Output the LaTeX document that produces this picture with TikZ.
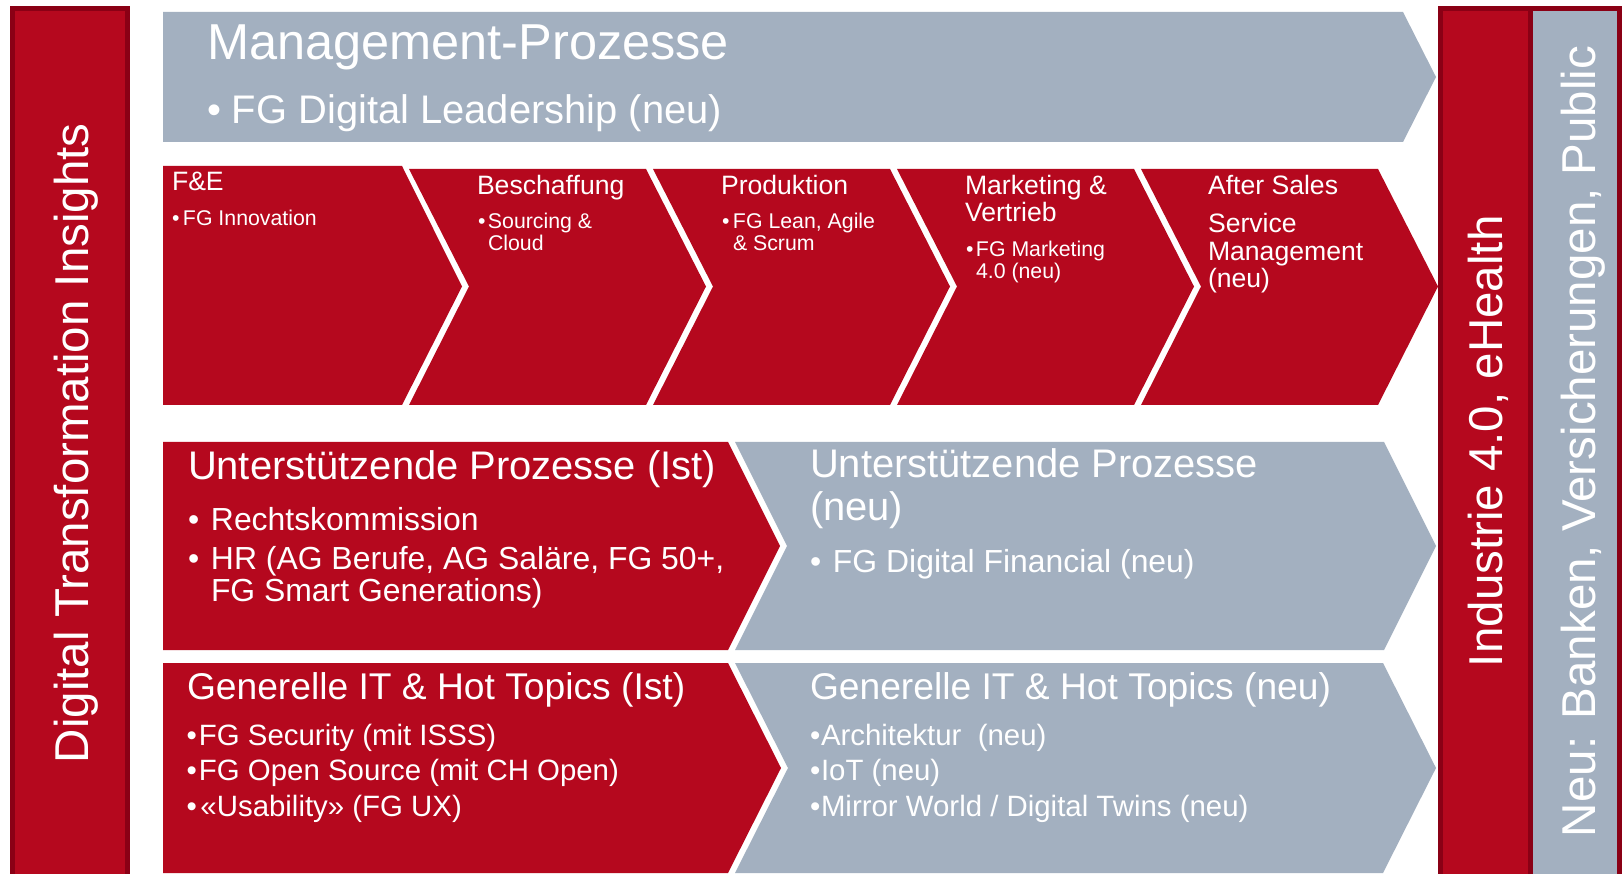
\documentclass[tikz,border=0pt]{standalone}
\usepackage{fontspec}
\setmainfont{Liberation Sans}
\definecolor{brand}{RGB}{181,8,30}
\definecolor{branddark}{RGB}{138,0,21}
\definecolor{slate}{RGB}{163,176,192}
\newcommand{\fsz}[1]{\fontsize{#1}{#1}\selectfont}
\newcommand{\bl}[1]{\makebox[#1][l]{•}}
\tikzset{
  txt/.style={anchor=base west, inner sep=0pt, outer sep=0pt, text=white},
  vtxt/.style={txt, rotate=90, font=\fsz{47.5pt}},
  hbig/.style={txt, font=\fsz{50.5pt}},
  hmid/.style={txt, font=\fsz{39.9pt}},
  hgen/.style={txt, font=\fsz{37.2pt}},
  itm/.style={txt, font=\fsz{31.9pt}},
  itmg/.style={txt, font=\fsz{29.4pt}},
  hsm/.style={txt, font=\fsz{26.6pt}},
  ism/.style={txt, font=\fsz{21.3pt}},
  redshape/.style={fill=brand},
  greyshape/.style={fill=slate},
  sidebar/.style={draw=branddark, line width=5pt},
}
\begin{document}
\begin{tikzpicture}[x=1pt,y=-1pt]
\useasboundingbox (0,0) rectangle (1623,874);
\clip (0,0) rectangle (1623,874);
\fill[white] (0,0) rectangle (1623,874);

% side bars
\path[sidebar, fill=brand] (12.5,8.5) rectangle (127.5,890);
\path[sidebar, fill=brand] (1440.5,8.5) rectangle (1530.5,890);
\path[sidebar, fill=slate] (1530.5,8.5) rectangle (1619.5,890);

% management chevron
\path[greyshape] (163,12) -- (1403,12) -- (1436,77) -- (1403,142) -- (163,142) -- cycle;

% value chain
\path[redshape] (163,166) -- (402,166) -- (462,286.5) -- (402,405) -- (163,405) -- cycle;
\path[redshape] (409,169) -- (646,169) -- (706,286.5) -- (646,405) -- (409,405) -- (469,286.5) -- cycle;
\path[redshape] (653,169) -- (890,169) -- (950,286.5) -- (890,405) -- (653,405) -- (713,286.5) -- cycle;
\path[redshape] (897,169) -- (1134,169) -- (1194,286.5) -- (1134,405) -- (897,405) -- (957,286.5) -- cycle;
\path[redshape] (1141,169) -- (1378,169) -- (1438,286.5) -- (1378,405) -- (1141,405) -- (1201,286.5) -- cycle;

% support rows
\path[redshape] (163,442) -- (728,442) -- (780,546) -- (728,650) -- (163,650) -- cycle;
\path[greyshape] (735,442) -- (1384,442) -- (1436,546) -- (1384,650) -- (735,650) -- (787,546) -- cycle;
\path[redshape] (163,663) -- (728,663) -- (781,768) -- (728,873) -- (163,873) -- cycle;
\path[greyshape] (735,663) -- (1383,663) -- (1436,768) -- (1383,873) -- (735,873) -- (788,768) -- cycle;

% vertical texts
\node[vtxt] (dti) at (88,763) {Digital Transformation Insights};
\node[vtxt] (ind) at (1502,667) {Industrie 4.0, eHealth};
\node[vtxt] (neu) at (1595,837) {Neu: Banken, Versicherungen, Public};

% management texts
\node[hbig] (mgmt) at (207,60) {Management-Prozesse};
\node[hmid] (mgmti) at (207,124) {\bl{25pt}FG Digital Leadership (neu)};

% value chain texts
\node[hsm] (fe) at (172,191) {F\&E};
\node[ism] (fei) at (172,226) {\bl{11pt}FG Innovation};

\node[hsm] (bes) at (477,195) {Beschaffung};
\node[ism] (besi1) at (478,229) {\bl{10pt}Sourcing \&};
\node[ism] (besi2) at (488,251) {Cloud};

\node[hsm] (pro) at (721,195) {Produktion};
\node[ism] (proi1) at (722,229) {\bl{11pt}FG Lean, Agile};
\node[ism] (proi2) at (733,251) {\& Scrum};

\node[hsm] (mar1) at (965,195) {Marketing \&};
\node[hsm] (mar2) at (965,222) {Vertrieb};
\node[ism] (mari1) at (966,257) {\bl{10pt}FG Marketing};
\node[ism] (mari2) at (976,279) {4.0 (neu)};

\node[hsm] (as) at (1208,195) {After Sales};
\node[hsm] (as1) at (1208,233) {Service};
\node[hsm] (as2) at (1208,261) {Management};
\node[hsm] (as3) at (1208,288) {(neu)};

% support texts
\node[hmid] (sup) at (188,479) {Unterstützende Prozesse (Ist)};
\node[itm] (sup1) at (188,530) {\bl{23pt}Rechtskommission};
\node[itm] (sup2) at (188,569) {\bl{23pt}HR (AG Berufe, AG Saläre, FG 50+,};
\node[itm] (sup3) at (211,601) {FG Smart Generations)};

\node[hmid] (supn1) at (810,478) {Unterstützende Prozesse};
\node[hmid] (supn2) at (810,520) {(neu)};
\node[itm] (supni) at (810,572) {\bl{23pt}FG Digital Financial (neu)};

% general IT texts
\node[hgen] (gen) at (187,699) {Generelle IT \& Hot Topics (Ist)};
\node[itmg] (gen1) at (186.5,745) {\bl{12.5pt}FG Security (mit ISSS)};
\node[itmg] (gen2) at (186.5,780) {\bl{12.5pt}FG Open Source (mit CH Open)};
\node[itmg] (gen3) at (186.5,816) {\bl{14pt}«Usability» (FG UX)};

\node[hgen] (genn) at (810,699) {Generelle IT \& Hot Topics (neu)};
\node[itmg] (genn1) at (810,745) {\bl{11pt}Architektur\ \ (neu)};
\node[itmg] (genn2) at (810,780) {\bl{11pt}IoT (neu)};
\node[itmg] (genn3) at (810,816) {\bl{11pt}Mirror World / Digital Twins (neu)};
\end{tikzpicture}
\end{document}
